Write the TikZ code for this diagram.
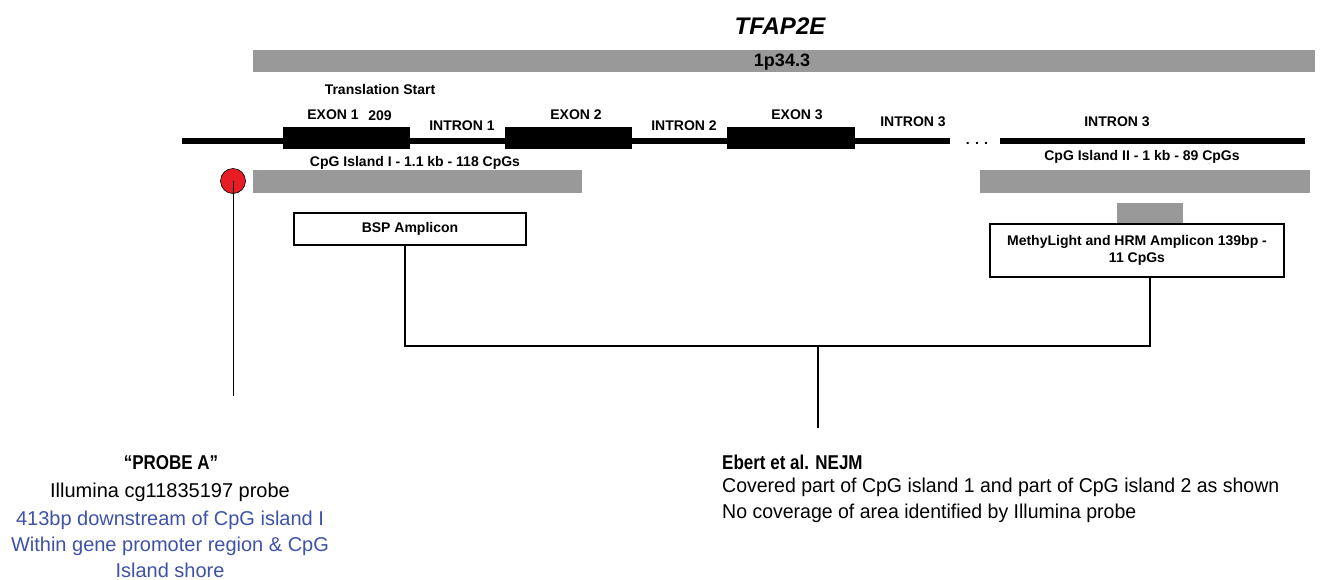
\documentclass[tikz,border=0pt]{standalone}
\usepackage{fontspec}
\setmainfont{Liberation Sans}
\newfontfamily\condbold[FakeStretch=0.85]{Liberation Sans Bold}
\newfontfamily\condreg[FakeStretch=0.975]{Liberation Sans}
\definecolor{bargray}{RGB}{153,153,153}
\definecolor{probeblue}{RGB}{62,82,168}
\definecolor{probered}{RGB}{230,30,36}
\begin{document}
\begin{tikzpicture}[x=1pt,y=-1pt,
  lbl/.style={font=\fontsize{14}{16}\selectfont\bfseries, inner sep=0pt},
  bar/.style={fill=bargray, draw=none},
  exon/.style={fill=black, draw=none},
  gene/.style={line width=6pt},
  ampbox/.style={draw=black, line width=1.2pt, fill=white, inner sep=0pt, align=center, font=\fontsize{14}{17}\selectfont\bfseries},
  conn/.style={line width=1.2pt},
  txt/.style={font=\fontsize{20}{26}\selectfont, inner sep=0pt}
]
\useasboundingbox (0,0) rectangle (1320,579);
% title
\node[inner sep=0pt, font=\fontsize{24}{28}\selectfont\bfseries\itshape] (title) at (780,26) {TFAP2E};
% chromosome band
\fill[bar] (253,50) rectangle (1315,72);
\node[inner sep=0pt, font=\fontsize{18}{20}\selectfont\bfseries] (band) at (782,62) {1p34.3};
% translation start
\node[lbl] (ts) at (380,89) {Translation Start};
% gene line
\coordinate (g1) at (182,141);
\coordinate (g2) at (950,141);
\coordinate (g3) at (1000,141);
\coordinate (g4) at (1305,141);
\draw[gene] (g1) -- (g2);
\draw[gene] (g3) -- (g4);
\node[lbl] (dots) at (977,143) {. . .};
% exons
\fill[exon] (283,127) rectangle (410,149);
\fill[exon] (505,127) rectangle (632,149);
\fill[exon] (727,127) rectangle (855,149);
\node[lbl] (e1) at (333,115) {EXON 1};
\node[lbl] (n209) at (380,116) {209};
\node[lbl] (e2) at (576,115) {EXON 2};
\node[lbl] (e3) at (797,115) {EXON 3};
\node[lbl] (i1) at (462,126) {INTRON 1};
\node[lbl] (i2) at (684,126) {INTRON 2};
\node[lbl] (i3) at (913,122) {INTRON 3};
\node[lbl] (i3b) at (1117,122) {INTRON 3};
% CpG islands
\node[lbl] (cpg1t) at (415,163) {CpG Island I - 1.1 kb - 118 CpGs};
\fill[bar] (253,170) rectangle (582,193);
\node[lbl] (cpg2t) at (1142,157) {CpG Island II - 1 kb - 89 CpGs};
\fill[bar] (980,170) rectangle (1310,193);
\fill[bar] (1117,203) rectangle (1183,224);
% probe
\node[circle, fill=probered, draw=black, line width=0.6pt, minimum size=25pt, inner sep=0pt] (probe) at (233,181) {};
\coordinate (probeend) at (233,396);
\draw[line width=1pt] (probe.center) -- (probeend);
% amplicon boxes
\node[ampbox, minimum width=232pt, minimum height=32pt] (bsp) at (410,229) {BSP Amplicon};
\node[ampbox, minimum width=294pt, minimum height=53pt] (ml) at (1137,250.5) {MethyLight and HRM Amplicon 139bp -\\11 CpGs};
% connectors
\coordinate (bspdown) at (405,346);
\coordinate (mldown) at (1150,346);
\coordinate (mid) at (818,346);
\coordinate (midend) at (818,428);
\draw[conn] (bsp.south -| bspdown) -- (bspdown) -- (mldown) -- (ml.south -| mldown);
\draw[conn] (mid) -- (midend);
% probe A text
\node[txt, font=\fontsize{20}{26}\selectfont\condbold] (pa) at (171,463) {“PROBE A”};
\node[txt] (pa2) at (170,492) {Illumina cg11835197 probe};
\node[txt, text=probeblue, align=center] (pa3) at (170,544) {413bp downstream of CpG island I\\Within gene promoter region \& CpG\\Island shore};
% Ebert text
\node[txt, anchor=west, font=\fontsize{20}{26}\selectfont\condbold] (eb) at (722,462) {Ebert et al. NEJM};
\node[txt, anchor=north west, align=left, font=\fontsize{20}{26}\selectfont\condreg] (eb2) at (722,478) {Covered part of CpG island 1 and part of CpG island 2 as shown\\No coverage of area identified by Illumina probe};
\end{tikzpicture}
\end{document}
